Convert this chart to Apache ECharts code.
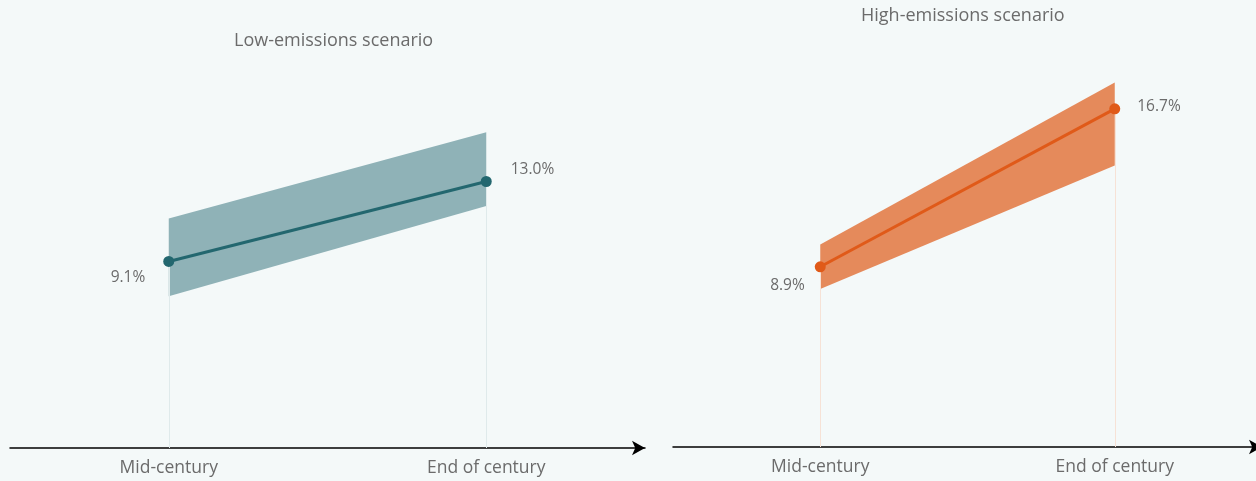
<!DOCTYPE html>
<html><head><meta charset="utf-8">
<script src="https://cdn.jsdelivr.net/npm/echarts@6/dist/echarts.min.js"></script>
<style>html,body{margin:0;padding:0;background:#f4f9f9;overflow:hidden;width:1256px;height:481px;}#c{width:1262px;height:481px;}</style>
</head><body><div id="c"></div>
<script>
const categories = ['Mid-century', 'End of century'];
const titles = ['Low-emissions scenario', 'High-emissions scenario'];
const lowCentral = [9.1, 13.0];
const lowRangeMin = [7.4, 11.8];
const lowRangeMax = [11.2, 15.4];
const highCentral = [8.9, 16.7];
const highRangeMin = [7.8, 13.9];
const highRangeMax = [10.0, 18.0];

const FONT = 'Open Sans';
const TXT = '#6b6b6b';
const panels = [
  {central: lowCentral, min: lowRangeMin, max: lowRangeMax, line: '#23676f', band: '#8fb2b7', vline: '#dfeaeb',
   labelOff: [[-13, 16], [14, -12]]},
  {central: highCentral, min: highRangeMin, max: highRangeMax, line: '#e05a19', band: '#e58a5b', vline: '#f6e2d6',
   labelOff: [[-5, 19], [12, -2]]}
];
const grids = [
  {left: 10, width: 635, top: 38, bottom: 33},
  {left: 673, width: 589, top: 42, bottom: 34}
];
const series = [];
panels.forEach((p, i) => {
  series.push({type: 'line', xAxisIndex: i, yAxisIndex: i, stack: 'band' + i, data: p.min,
    symbol: 'none', lineStyle: {opacity: 0}, silent: true, z: 1,
    markLine: {symbol: 'none', silent: true, label: {show: false},
      lineStyle: {color: p.vline, width: 1, type: 'solid'},
      data: categories.map((c, k) => [{coord: [c, 0]}, {coord: [c, p.central[k]]}])}});
  series.push({type: 'line', xAxisIndex: i, yAxisIndex: i, stack: 'band' + i,
    data: p.max.map((v, k) => +(v - p.min[k]).toFixed(2)),
    symbol: 'none', lineStyle: {opacity: 0}, areaStyle: {color: p.band, opacity: 1}, silent: true, z: 2});
  series.push({type: 'line', xAxisIndex: i, yAxisIndex: i, z: 5,
    data: p.central.map((v, k) => ({value: v, label: {
      show: true, position: k === 0 ? 'left' : 'right', offset: p.labelOff[k],
      formatter: v.toFixed(1) + '%', color: TXT, fontSize: 15.5, fontFamily: FONT}})),
    symbol: 'circle', symbolSize: 11, lineStyle: {color: p.line, width: 3}, itemStyle: {color: p.line}});
});
const chart = echarts.init(document.getElementById('c'), null, {renderer: 'canvas'});
chart.setOption({
  backgroundColor: '#f4f9f9',
  animation: false,
  title: [
    {text: titles[0], left: 229, top: 27, textStyle: {fontFamily: FONT, fontSize: 18, fontWeight: 'normal', color: TXT}},
    {text: titles[1], left: 856, top: 2, textStyle: {fontFamily: FONT, fontSize: 18, fontWeight: 'normal', color: TXT}}
  ],
  grid: grids,
  xAxis: grids.map((g, i) => ({type: 'category', gridIndex: i, data: categories, boundaryGap: true,
    axisLine: {lineStyle: {color: '#000', width: 1.5}, symbol: ['none', 'arrow'], symbolSize: [11, 13]},
    axisTick: {show: false}, splitLine: {show: false},
    axisLabel: {color: TXT, fontSize: 17.5, fontFamily: FONT, margin: 11}})),
  yAxis: grids.map((g, i) => ({type: 'value', gridIndex: i, min: 0, max: 20, show: false, splitLine: {show: false}})),
  series: series
});
</script></body></html>
